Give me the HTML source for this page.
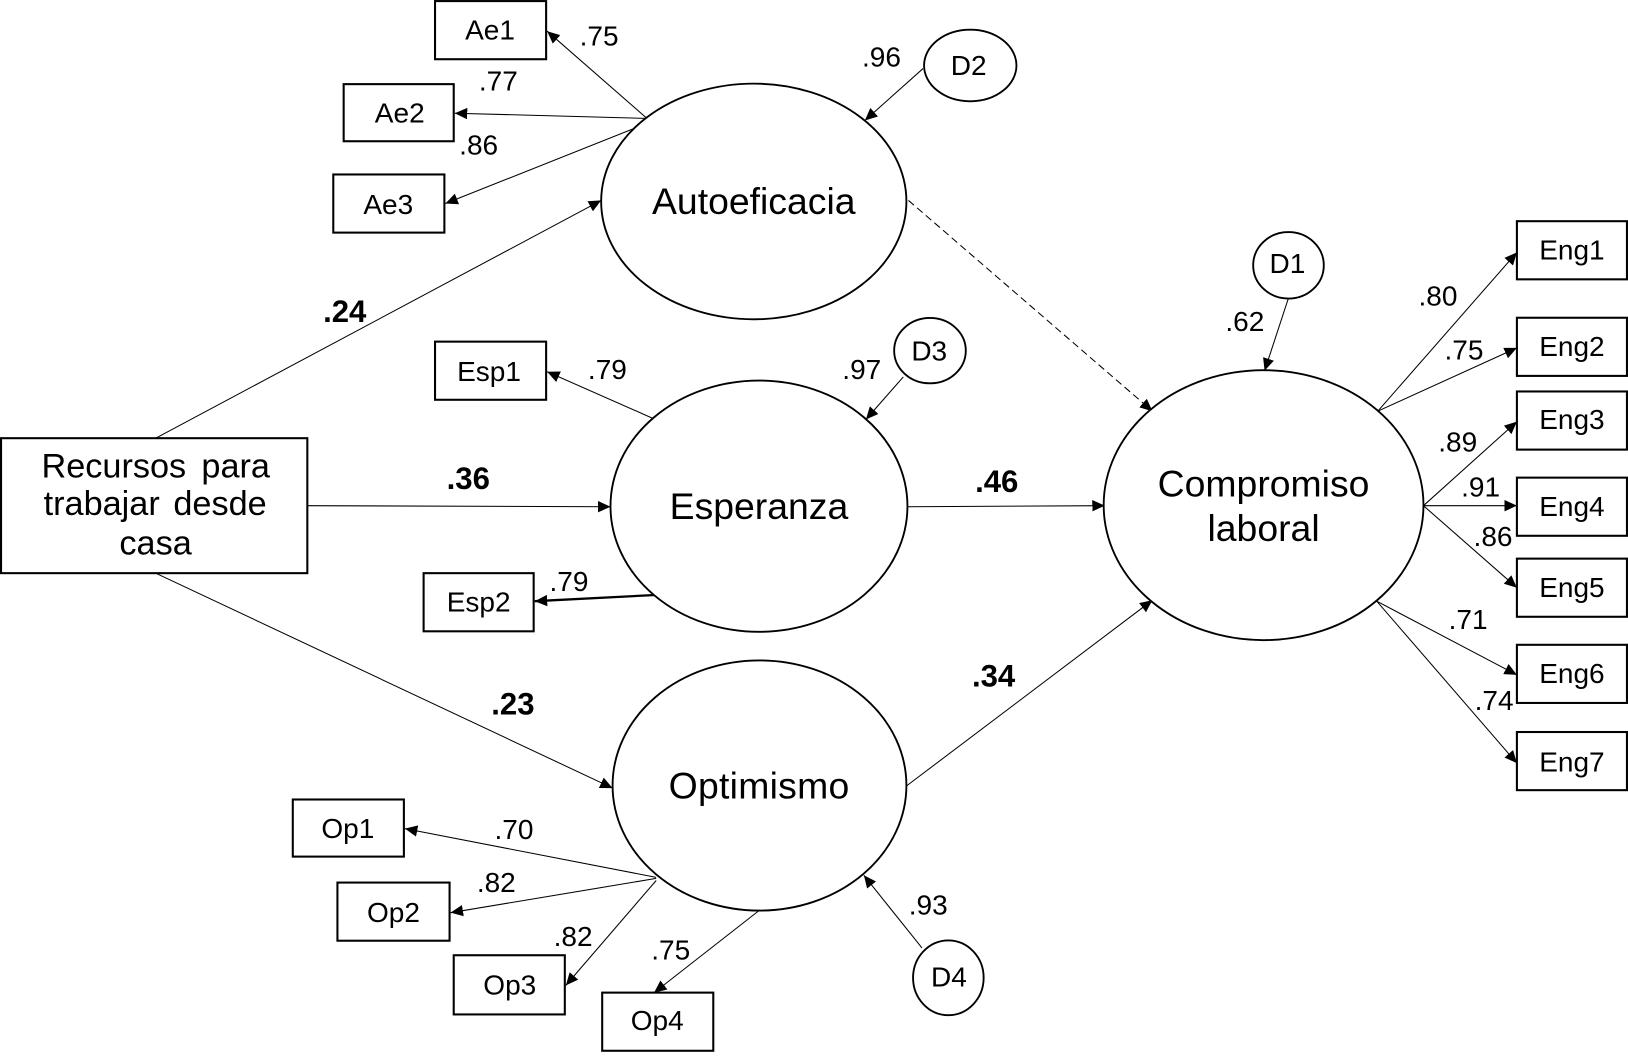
<!DOCTYPE html>
<html><head><meta charset="utf-8"><style>
html,body{margin:0;padding:0;background:#fff;width:1628px;height:1056px;overflow:hidden}
svg{display:block}
text{font-family:"Liberation Sans",sans-serif;fill:#000}
.b{fill:#fff;stroke:#000;stroke-width:2}
.e{fill:#fff;stroke:#000;stroke-width:1.8}
.l{stroke:#000;stroke-width:1;fill:none;marker-end:url(#a)}
.n{font-size:27px;text-anchor:middle}
.c{font-size:36px;text-anchor:middle}
.v{font-size:27px;text-anchor:middle}
.s{font-size:30px;font-weight:bold;text-anchor:middle}
.r{font-size:33px}
</style></head><body>
<svg width="1628" height="1056" viewBox="0 0 1568 1017" xmlns="http://www.w3.org/2000/svg">
<defs><marker id="a" markerUnits="userSpaceOnUse" markerWidth="14" markerHeight="12" refX="12" refY="5.5" orient="auto"><path d="M0 0L12 5.5L0 11Z" fill="#000"/></marker></defs>

<line class="l" x1="622" y1="113" x2="527" y2="30"/>
<line class="l" x1="622" y1="114" x2="438" y2="109"/>
<line class="l" x1="620" y1="120" x2="429" y2="196"/>
<line class="l" x1="150" y1="422" x2="579" y2="193"/>
<line class="l" x1="629" y1="403" x2="527" y2="358"/>
<line class="l" x1="296" y1="487" x2="588" y2="488"/>
<line class="l" x1="631" y1="573" x2="515" y2="579" style="stroke-width:2.2"/>
<line class="l" x1="150" y1="552" x2="590" y2="759"/>
<line class="l" x1="632" y1="845" x2="390" y2="798"/>
<line class="l" x1="632" y1="846" x2="434" y2="879"/>
<line class="l" x1="632" y1="848" x2="545" y2="949"/>
<line class="l" x1="731" y1="877" x2="630" y2="956"/>
<line class="l" x1="889" y1="66" x2="833" y2="116"/>
<line class="l" x1="870" y1="363" x2="834" y2="404"/>
<line class="l" x1="888" y1="913" x2="832" y2="843"/>
<line class="l" x1="1241" y1="287" x2="1218" y2="357"/>
<line class="l" x1="875" y1="193" x2="1110" y2="396" style="stroke-dasharray:7 4"/>
<line class="l" x1="874" y1="488" x2="1064" y2="487"/>
<line class="l" x1="873" y1="757" x2="1110" y2="578"/>
<line class="l" x1="1327" y1="396" x2="1461" y2="243"/>
<line class="l" x1="1327" y1="396" x2="1461" y2="335"/>
<line class="l" x1="1371" y1="487" x2="1461" y2="406"/>
<line class="l" x1="1371" y1="487" x2="1461" y2="487"/>
<line class="l" x1="1371" y1="487" x2="1461" y2="566"/>
<line class="l" x1="1326" y1="579" x2="1461" y2="650"/>
<line class="l" x1="1326" y1="579" x2="1461" y2="735"/>

<ellipse class="e" cx="726" cy="194" rx="147" ry="113.5"/>
<ellipse class="e" cx="731" cy="487.5" rx="143" ry="121"/>
<ellipse class="e" cx="731.5" cy="756.5" rx="141.5" ry="120.5"/>
<ellipse class="e" cx="1217" cy="486.5" rx="154" ry="130"/>
<ellipse class="e" cx="934.5" cy="63" rx="44.5" ry="34.5"/>
<ellipse class="e" cx="895.7" cy="337.7" rx="34.5" ry="31.5"/>
<ellipse class="e" cx="1241" cy="255.5" rx="34" ry="32"/>
<ellipse class="e" cx="913.4" cy="941.7" rx="34" ry="36"/>

<rect class="b" x="419" y="1" width="107" height="56"/>
<rect class="b" x="331" y="81" width="106" height="55"/>
<rect class="b" x="321" y="168" width="107" height="56"/>
<rect class="b" x="419" y="329" width="107" height="56"/>
<rect class="b" x="408" y="552" width="106" height="56"/>
<rect class="b" x="282" y="770" width="107" height="55"/>
<rect class="b" x="325" y="850" width="108" height="56"/>
<rect class="b" x="437" y="920" width="107" height="57"/>
<rect class="b" x="580" y="956" width="107" height="56"/>
<rect class="b" x="1461" y="213" width="106" height="56"/>
<rect class="b" x="1461" y="306" width="106" height="56"/>
<rect class="b" x="1461" y="377" width="106" height="56"/>
<rect class="b" x="1461" y="460" width="106" height="56"/>
<rect class="b" x="1461" y="538" width="106" height="56"/>
<rect class="b" x="1461" y="621" width="106" height="56"/>
<rect class="b" x="1461" y="705" width="106" height="56"/>
<rect class="b" x="1" y="422" width="295" height="130"/>

<text class="n" x="472" y="38">Ae1</text>
<text class="n" x="385" y="118">Ae2</text>
<text class="n" x="374" y="206">Ae3</text>
<text class="n" x="471" y="367">Esp1</text>
<text class="n" x="461" y="589">Esp2</text>
<text class="n" x="335" y="807">Op1</text>
<text class="n" x="379" y="888">Op2</text>
<text class="n" x="491" y="958">Op3</text>
<text class="n" x="633" y="992">Op4</text>
<text class="n" x="1514" y="250">Eng1</text>
<text class="n" x="1514" y="343">Eng2</text>
<text class="n" x="1514" y="413">Eng3</text>
<text class="n" x="1514" y="497">Eng4</text>
<text class="n" x="1514" y="575">Eng5</text>
<text class="n" x="1514" y="658">Eng6</text>
<text class="n" x="1514" y="743">Eng7</text>
<text class="n" x="933" y="72">D2</text>
<text class="n" x="895" y="347">D3</text>
<text class="n" x="1240" y="263">D1</text>
<text class="n" x="914" y="950">D4</text>

<text class="c" x="726" y="206">Autoeficacia</text>
<text class="c" x="731" y="500">Esperanza</text>
<text class="c" x="731" y="769" textLength="174">Optimismo</text>
<text class="c" x="1217" y="478">Compromiso</text>
<text class="c" x="1217" y="521">laboral</text>

<text class="r" x="40" y="460">Recursos</text>
<text class="r" x="194" y="460">para</text>
<text class="r" x="42" y="496">trabajar</text>
<text class="r" x="167" y="496">desde</text>
<text class="r" x="115" y="534">casa</text>

<text class="v" x="577" y="44">.75</text>
<text class="v" x="480" y="87">.77</text>
<text class="v" x="461" y="149">.86</text>
<text class="v" x="849" y="64">.96</text>
<text class="v" x="585" y="365">.79</text>
<text class="v" x="830" y="365">.97</text>
<text class="v" x="548" y="569">.79</text>
<text class="v" x="1199" y="319">.62</text>
<text class="v" x="1385" y="294">.80</text>
<text class="v" x="1410" y="346">.75</text>
<text class="v" x="1404" y="435">.89</text>
<text class="v" x="1426" y="478">.91</text>
<text class="v" x="1438" y="526">.86</text>
<text class="v" x="1414" y="606">.71</text>
<text class="v" x="1439" y="684">.74</text>
<text class="v" x="495" y="808">.70</text>
<text class="v" x="478" y="859">.82</text>
<text class="v" x="552" y="911">.82</text>
<text class="v" x="646" y="924">.75</text>
<text class="v" x="894" y="881">.93</text>

<text class="s" x="332" y="310">.24</text>
<text class="s" x="451" y="471">.36</text>
<text class="s" x="960" y="474">.46</text>
<text class="s" x="494" y="688">.23</text>
<text class="s" x="957" y="661">.34</text>
</svg>
</body></html>
